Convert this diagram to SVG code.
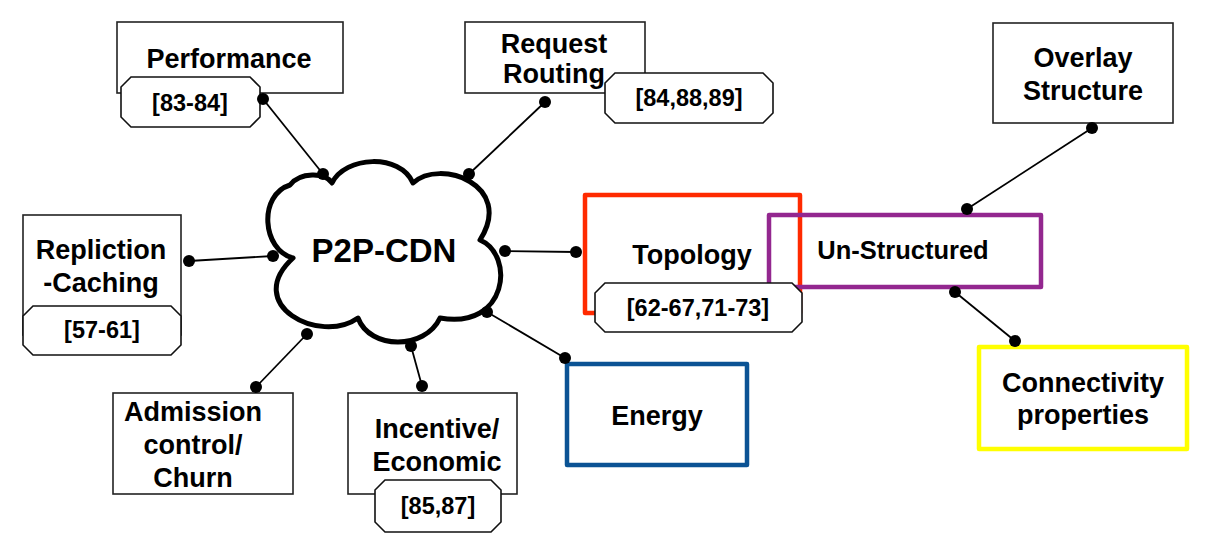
<svg xmlns="http://www.w3.org/2000/svg" width="1209" height="551" viewBox="0 0 1209 551">
<defs>
<style>
.box{fill:#fff;stroke:#222;stroke-width:1.6}
.oct{fill:#fff;stroke:#111;stroke-width:1.6}
.t{font-family:"Liberation Sans",Arial,sans-serif;font-weight:bold;font-size:27px;fill:#000;text-anchor:middle}
.r{font-family:"Liberation Sans",Arial,sans-serif;font-weight:bold;font-size:23.5px;fill:#000;text-anchor:middle}
.ln{stroke:#000;stroke-width:1.8;fill:none}
.dot{fill:#000}
</style>
</defs>
<rect width="1209" height="551" fill="#fff"/>

<g id="cloud">
<path d="M293,258 C262,250 258,195 290,185 C300,172 325,172 332,183 C345,156 400,153 413,183 C440,158 515,185 480,240 C515,255 508,330 440,318 C425,350 370,350 358,318 C320,345 242,305 293,258 Z" fill="#fff" stroke="#000" stroke-width="5" stroke-linejoin="round"/>
<text class="t" x="384" y="262" style="font-size:33px">P2P-CDN</text>
</g>

<g id="performance">
<rect class="box" x="117" y="22" width="226" height="71"/>
<text class="t" x="229" y="68">Performance</text>
<polygon class="oct" points="131,77 250,77 260,87 260,117 250,127 131,127 121,117 121,87"/>
<text class="r" x="190" y="111">[83-84]</text>
</g>

<g id="request-routing">
<rect class="box" x="465" y="22" width="180" height="71"/>
<text class="t" x="554" y="53">Request</text>
<text class="t" x="554" y="83">Routing</text>
<polygon class="oct" points="615,73 763,73 773,83 773,113 763,123 615,123 605,113 605,83"/>
<text class="r" x="689" y="106">[84,88,89]</text>
</g>

<g id="overlay-structure">
<rect class="box" x="993" y="23" width="180" height="100"/>
<text class="t" x="1083" y="67">Overlay</text>
<text class="t" x="1083" y="100">Structure</text>
</g>

<g id="repliction-caching">
<rect class="box" x="23" y="215" width="158" height="120"/>
<text class="t" x="101" y="259">Repliction</text>
<text class="t" x="101" y="292">-Caching</text>
<polygon class="oct" points="33,306 171,306 181,316 181,345 171,355 33,355 23,345 23,316"/>
<text class="r" x="102" y="338">[57-61]</text>
</g>

<g id="topology">
<rect x="585" y="195" width="215" height="118" fill="none" stroke="#ff2a00" stroke-width="4.5" stroke-linejoin="round"/>
<text class="t" x="692" y="264">Topology</text>
</g>

<g id="un-structured">
<rect x="769" y="215" width="272" height="72" fill="none" stroke="#93278f" stroke-width="4.5" stroke-linejoin="round"/>
<text class="t" x="903" y="259" style="font-size:25.5px">Un-Structured</text>
</g>

<g id="topology-ref">
<polygon class="oct" points="605,283 792,283 802,293 802,322 792,332 605,332 595,322 595,293"/>
<text class="r" x="698" y="316">[62-67,71-73]</text>
</g>

<g id="admission">
<rect class="box" x="113" y="393" width="180" height="101"/>
<text class="t" x="193" y="421">Admission</text>
<text class="t" x="193" y="454">control/</text>
<text class="t" x="193" y="487">Churn</text>
</g>

<g id="incentive">
<rect class="box" x="348" y="393" width="169" height="101"/>
<text class="t" x="437" y="438">Incentive/</text>
<text class="t" x="437" y="471">Economic</text>
<polygon class="oct" points="385,480 491,480 501,490 501,522 491,532 385,532 375,522 375,490"/>
<text class="r" x="438" y="514">[85,87]</text>
</g>

<g id="energy">
<rect x="567" y="364" width="180" height="101" fill="#fff" stroke="#0b5394" stroke-width="4.5" stroke-linejoin="round"/>
<text class="t" x="657" y="425">Energy</text>
</g>

<g id="connectivity">
<rect x="979" y="347" width="208" height="102" fill="#fff" stroke="#ffff00" stroke-width="4.5" stroke-linejoin="round"/>
<text class="t" x="1083" y="392">Connectivity</text>
<text class="t" x="1083" y="424">properties</text>
</g>

<g id="connectors">
<line class="ln" x1="263" y1="99" x2="323" y2="174"/>
<circle class="dot" cx="263" cy="99" r="6"/><circle class="dot" cx="323" cy="174" r="6"/>
<line class="ln" x1="545" y1="102" x2="469" y2="174"/>
<circle class="dot" cx="545" cy="102" r="6"/><circle class="dot" cx="469" cy="174" r="6"/>
<line class="ln" x1="189" y1="261" x2="273" y2="256"/>
<circle class="dot" cx="189" cy="261" r="6"/><circle class="dot" cx="273" cy="256" r="6"/>
<line class="ln" x1="505" y1="251" x2="576" y2="252"/>
<circle class="dot" cx="505" cy="251" r="6"/><circle class="dot" cx="576" cy="252" r="6"/>
<line class="ln" x1="307" y1="334" x2="256" y2="387"/>
<circle class="dot" cx="307" cy="334" r="6"/><circle class="dot" cx="256" cy="387" r="6"/>
<line class="ln" x1="411" y1="346" x2="422" y2="386"/>
<circle class="dot" cx="411" cy="346" r="6"/><circle class="dot" cx="422" cy="386" r="6"/>
<line class="ln" x1="487" y1="312" x2="565" y2="358"/>
<circle class="dot" cx="487" cy="312" r="6"/><circle class="dot" cx="565" cy="358" r="6"/>
<line class="ln" x1="1092" y1="128" x2="967" y2="209"/>
<circle class="dot" cx="1092" cy="128" r="6"/><circle class="dot" cx="967" cy="209" r="6"/>
<line class="ln" x1="955" y1="292" x2="1015" y2="341"/>
<circle class="dot" cx="955" cy="292" r="6"/><circle class="dot" cx="1015" cy="341" r="6"/>
</g>
</svg>
